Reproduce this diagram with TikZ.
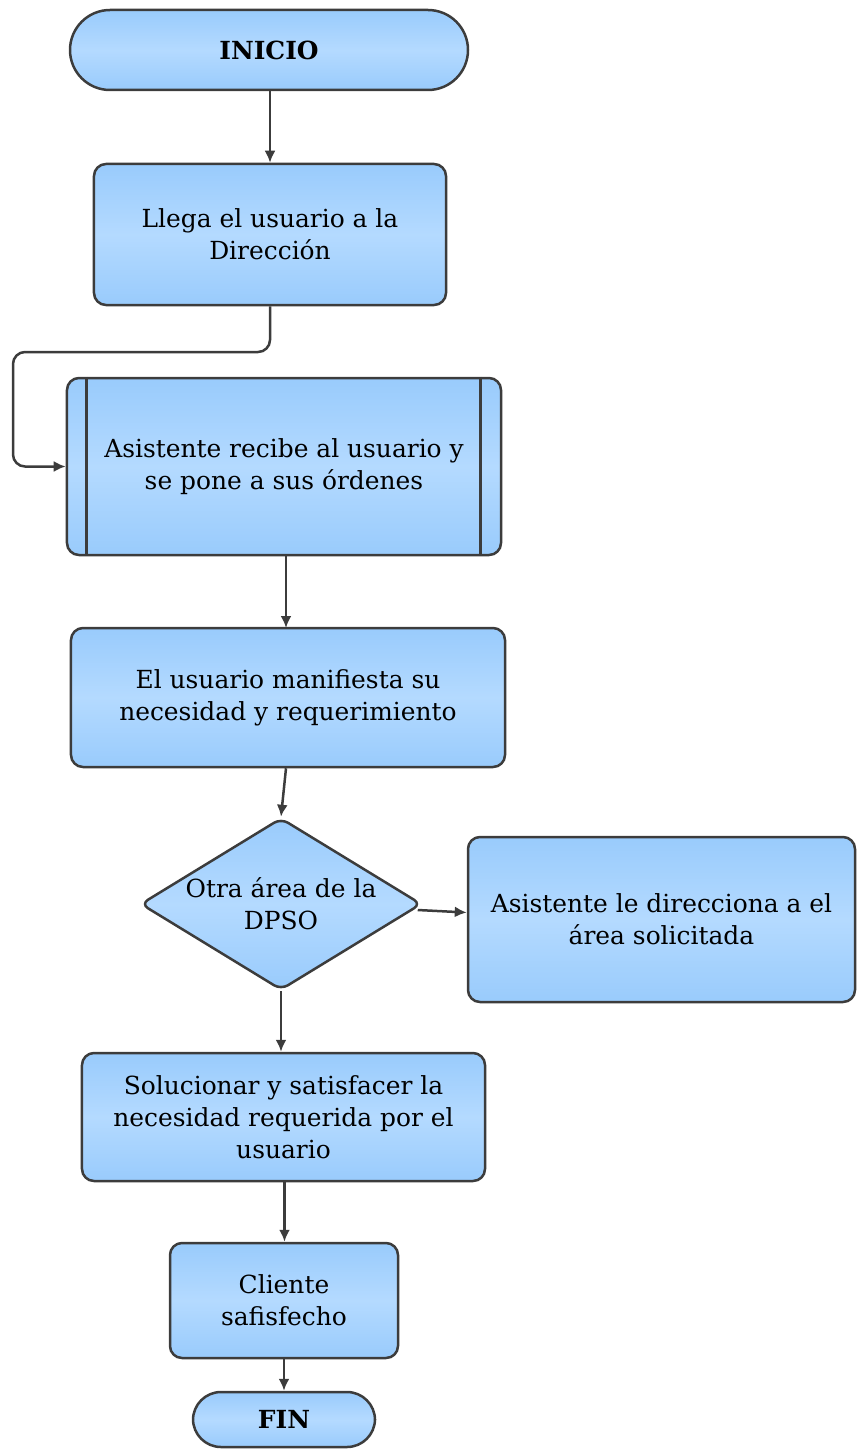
\documentclass[tikz,border=0pt]{standalone}
\usepackage{fontspec}
\setmainfont{DejaVu Serif}
\usetikzlibrary{arrows.meta,shapes.geometric}

\definecolor{linecol}{RGB}{60,60,60}
\definecolor{fillout}{RGB}{153,203,252}
\definecolor{fillmid}{RGB}{180,218,255}

\tikzset{
  box/.style={draw=linecol, line width=2.5bp, rounded corners=12bp,
    top color=fillout, bottom color=fillout, middle color=fillmid,
    align=center, inner sep=0pt},
  term/.style={box, rounded corners=28bp, font=\bfseries\fontsize{25}{32}\selectfont},
  dec/.style={box, shape=diamond, aspect=1.63, rounded corners=8bp},
  edge/.style={draw=linecol, line width=2.5bp, -{Latex[length=12bp,width=11bp]}},
}

\begin{document}
\begin{tikzpicture}[x=1bp,y=-1bp,line join=round]
\fontsize{25}{32}\selectfont
\useasboundingbox (0,0) rectangle (857,1449);
  % Node: inicio
  \node[term, rounded corners=40bp, minimum width=398bp, minimum height=80bp] (inicio) at (269,50) {INICIO};
  % Node: b1
  \node[box, minimum width=352bp, minimum height=141bp] (b1) at (270,234.5) {Llega el usuario a la\\Dirección};
  % Node: b2
  \node[box, minimum width=434bp, minimum height=177bp] (b2) at (284,466.5) {Asistente recibe al usuario y\\se pone a sus órdenes};
  \draw[linecol, line width=2.5bp] ([xshift=21bp]b2.north west) -- ([xshift=21bp]b2.south west);
  \draw[linecol, line width=2.5bp] ([xshift=-22bp]b2.north east) -- ([xshift=-22bp]b2.south east);
  % Node: b3
  \node[box, minimum width=434bp, minimum height=139bp] (b3) at (288,697.5) {El usuario manifiesta su\\necesidad y requerimiento};
  % Node: d1
  \node[dec, minimum width=281bp, minimum height=172bp] (d1) at (281,904) {Otra área de la\\DPSO};
  % Node: b4
  \node[box, minimum width=387bp, minimum height=165bp] (b4) at (661.5,919.5) {Asistente le direcciona a el\\área solicitada};
  % Node: b5
  \node[box, minimum width=403bp, minimum height=128bp] (b5) at (283.5,1117) {Solucionar y satisfacer la\\necesidad requerida por el\\usuario};
  % Node: b6
  \node[box, minimum width=228bp, minimum height=115bp] (b6) at (284,1300.5) {Cliente\\safisfecho};
  % Node: fin
  \node[term, minimum width=182bp, minimum height=55bp] (fin) at (284,1419.5) {FIN};

  % Edge: inicio -> b1
  \draw[edge] (inicio.south -| b1.south) -- (b1.north);
  % Edge: b1 -> b2
  \coordinate (loop) at (13,352);
  \draw[edge, rounded corners=12bp] (b1.south) |- (loop) |- (b2.west);
  % Edge: b2 -> b3
  \draw[edge] (286,555) -- (286,628);
  % Edge: b3 -> d1
  \draw[edge] ([xshift=-2bp]b3.south) -- (d1.north);
  % Edge: d1 -> b4
  \draw[edge] ([xshift=-5bp,yshift=-6bp]d1.east) -- ([yshift=7bp]b4.west);
  % Edge: d1 -> b5
  \draw[edge] (d1.south) -- (d1.south |- b5.north);
  % Edge: b5 -> b6
  \draw[edge] ([xshift=1bp]b5.south) -- ([xshift=1bp]b5.south |- b6.north);
  % Edge: b6 -> fin
  \draw[edge] (b6.south) -- (fin.north);
\end{tikzpicture}
\end{document}
